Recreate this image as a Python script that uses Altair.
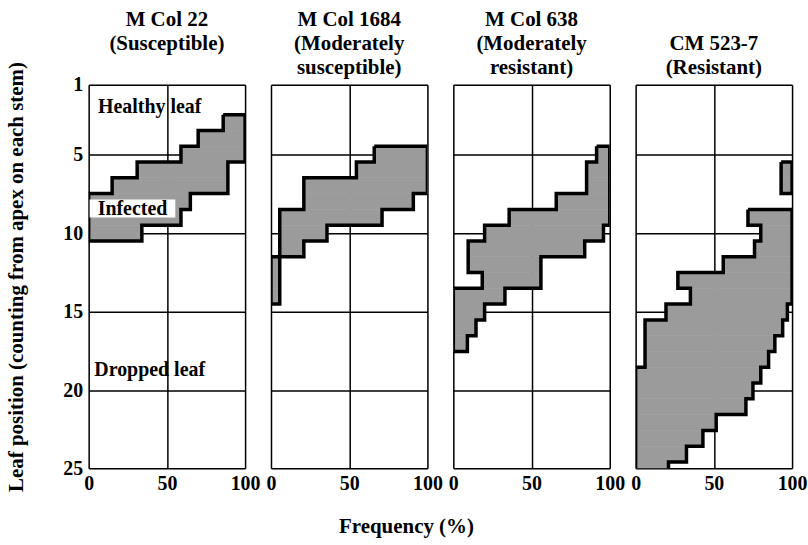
import altair as alt
import pandas as pd

FONT = "Liberation Serif"
FILL = "#9b9b9b"
NB = "\u00a0"  # invisible line that keeps every panel title three lines tall

titles = [
    [NB, "M Col 22", "(Susceptible)"],
    ["M Col 1684", "(Moderately", "susceptible)"],
    ["M Col 638", "(Moderately", "resistant)"],
    [NB, "CM 523-7", "(Resistant)"],
]

# Leaf positions (rows) with infected leaves, and frequency (%) where the
# infected band starts (= % healthy) and ends (= % healthy + % infected).
leaf_1 = [3, 4, 5, 6, 7, 8, 9, 10]
from_1 = [86, 70, 59, 31, 15, 0, 0, 0]
to_1 = [100, 100, 100, 89, 89, 65, 59, 34]

leaf_2 = [5, 6, 7, 8, 9, 10, 11, 12, 13, 14]
from_2 = [66, 54.6, 21, 21, 5.6, 5.6, 5.6, 0, 0, 0]
to_2 = [100, 100, 100, 91, 71, 35.8, 21, 5.6, 5.6, 5.6]

leaf_3 = [5, 6, 7, 8, 9, 10, 11, 12, 13, 14, 15, 16, 17]
from_3 = [91.6, 85.2, 85.2, 65.8, 35.7, 20, 9.5, 9.5, 18.5, 0, 0, 0, 0]
to_3 = [100, 100, 100, 100, 100, 96, 84, 56, 56, 33, 20, 14.5, 9]

leaf_4 = [6, 7, 9, 10, 11, 12, 13, 14, 15, 16, 17, 18, 19, 20, 21, 22, 23, 24, 25]
from_4 = [93, 93, 71.8, 80, 76, 56, 27, 35, 19.4, 6, 6, 6, 0, 0, 0, 0, 0, 0, 0]
to_4 = [100, 100, 100, 100, 100, 100, 100, 100, 97, 94, 89, 85, 80, 75, 70.5, 51.5, 43, 32.5, 21]

panel_leaves = [leaf_1, leaf_2, leaf_3, leaf_4]
panel_from = [from_1, from_2, from_3, from_4]
panel_to = [to_1, to_2, to_3, to_4]

# Annotations in the first panel
ann_text = ["Healthy leaf", "Infected", "Dropped leaf"]
ann_x = [39, 28, 39]
ann_leaf = [2.0, 8.45, 18.7]

y_domain = [0.6, 24.9]
y_ticks = [0.6, 5, 10, 15, 20, 24.9]
x_ticks = [0, 50, 100]


def outline(leaves, lo, hi):
    pieces, cur = [], []
    for k, lf in enumerate(leaves):
        if cur and lf != leaves[cur[-1]] + 1:
            pieces.append(cur)
            cur = []
        cur.append(k)
    if cur:
        pieces.append(cur)
    rows = []
    for p, idx in enumerate(pieces):
        pts = []
        for k in idx:
            pts += [(lo[k], leaves[k] - 0.5), (lo[k], leaves[k] + 0.5)]
        for k in reversed(idx):
            pts += [(hi[k], leaves[k] + 0.5), (hi[k], leaves[k] - 0.5)]
        pts.append(pts[0])
        for o, (x, y) in enumerate(pts):
            rows.append({"x": x, "y": y, "piece": p, "order": o})
    return pd.DataFrame(rows)


xs = alt.Scale(domain=[0, 100], nice=False, zero=False)
ys = alt.Scale(domain=y_domain, reverse=True, nice=False, zero=False)

common = dict(grid=True, ticks=False, domain=False, gridColor="black",
              gridWidth=1.5, gridOpacity=1)
xaxis = alt.Axis(values=x_ticks, title=None, labelFlush=False, labelFont=FONT,
                 labelFontSize=20, labelFontWeight="bold", labelColor="black",
                 labelPadding=5, **common)
yaxis_first = alt.Axis(
    values=y_ticks,
    labelExpr="datum.value < 1 ? '1' : (datum.value > 24 ? '25' : datum.label)",
    title="Leaf position (counting from apex on each stem)",
    labelFont=FONT, labelFontSize=20, labelFontWeight="bold", labelColor="black",
    labelPadding=6, titleFont=FONT, titleFontSize=21, titleFontWeight="bold",
    titleColor="black", titlePadding=36, **common)
yaxis_other = alt.Axis(values=y_ticks, labels=False, title=None, **common)

panels = []
for i in range(4):
    yaxis = yaxis_first if i == 0 else yaxis_other
    df = pd.DataFrame({"leaf": panel_leaves[i], "x_from": panel_from[i],
                       "x_to": panel_to[i]})
    rect = alt.Chart(df).transform_calculate(
        top="datum.leaf - 0.5", bottom="datum.leaf + 0.5"
    ).mark_rect(color=FILL, stroke=FILL, strokeWidth=0.6, clip=True).encode(
        x=alt.X("x_from:Q", scale=xs, axis=xaxis),
        x2="x_to:Q",
        y=alt.Y("top:Q", scale=ys, axis=yaxis),
        y2="bottom:Q",
    )
    line = alt.Chart(outline(panel_leaves[i], panel_from[i], panel_to[i])).mark_line(
        color="black", strokeWidth=3.5, strokeJoin="miter", clip=True
    ).encode(
        x=alt.X("x:Q", scale=xs, axis=xaxis),
        y=alt.Y("y:Q", scale=ys, axis=yaxis),
        detail="piece:N",
        order="order:Q",
    )
    layers = [rect, line]
    if i == 0:
        adf = pd.DataFrame({"label": ann_text, "x": ann_x, "leaf": ann_leaf})
        box = alt.Chart(adf).transform_filter(alt.datum.label == "Infected").mark_point(
            shape="M-1,-0.21H1V0.21H-1Z", size=7396, filled=True, color="white",
            opacity=1, strokeWidth=0
        ).encode(
            x=alt.X("x:Q", scale=xs, axis=xaxis),
            y=alt.Y("leaf:Q", scale=ys, axis=yaxis),
        )
        txt = alt.Chart(adf).mark_text(
            font=FONT, fontSize=20, fontWeight="bold", color="black",
            align="center", baseline="middle"
        ).encode(
            x=alt.X("x:Q", scale=xs, axis=xaxis),
            y=alt.Y("leaf:Q", scale=ys, axis=yaxis),
            text="label:N",
        )
        layers += [box, txt]
    ch = alt.layer(*layers).properties(
        width=157, height=385,
        title=alt.TitleParams(text=titles[i], font=FONT, fontSize=21,
                              fontWeight="bold", color="black", lineHeight=24,
                              anchor="middle", frame="group", offset=-14,
                              baseline="bottom"),
    )
    panels.append(ch)

chart = alt.hconcat(*panels, spacing=26, bounds="flush").properties(
    title=alt.TitleParams(text="Frequency (%)", orient="bottom", anchor="middle",
                          font=FONT, fontSize=21, fontWeight="bold",
                          color="black", offset=22),
    padding={"left": 5, "top": -16, "right": 0, "bottom": 5},
).configure_view(stroke="black", strokeWidth=2).configure(background="white")

chart.save("out.html", embed_options={"renderer": "svg", "actions": False})
